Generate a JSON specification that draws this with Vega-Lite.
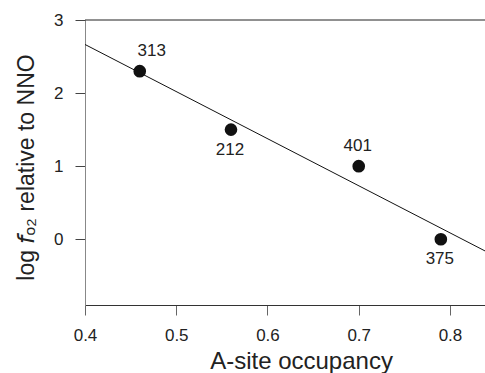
{
  "$schema": "https://vega.github.io/schema/vega-lite/v6.json",
  "autosize": "none",
  "width": 400,
  "height": 285,
  "padding": {"left": 85, "top": 20, "right": 0, "bottom": 68},
  "background": "white",
  "config": {
    "view": {"stroke": null},
    "font": "Liberation Sans",
    "axis": {"grid": false, "labelFlush": false, "labelFont": "Liberation Sans", "titleFont": "Liberation Sans", "labelColor": "#222", "titleColor": "#222", "titleFontWeight": "normal", "labelFontSize": 17, "titleFontSize": 23, "tickSize": 10, "labelPadding": 11}
  },
  "datasets": {
    "pts": [
      {"occ": 0.46, "fo2": 2.3, "name": "313"},
      {"occ": 0.56, "fo2": 1.5, "name": "212"},
      {"occ": 0.70, "fo2": 1.0, "name": "401"},
      {"occ": 0.79, "fo2": 0.0, "name": "375"}
    ],
    "fit": [
      {"occ": 0.4, "fo2": 2.665},
      {"occ": 0.8384, "fo2": -0.16}
    ]
  },
  "layer": [
    {
      "data": {"values": [{"v": 3}]},
      "mark": {"type": "rule", "color": "#222", "strokeWidth": 1},
      "encoding": {"y": {"field": "v", "type": "quantitative", "scale": {"domain": [-0.9, 3], "nice": false}}}
    },
    {
      "data": {"name": "fit"},
      "mark": {"type": "line", "color": "#111", "strokeWidth": 1, "clip": true},
      "encoding": {
        "x": {"field": "occ", "type": "quantitative"},
        "y": {"field": "fo2", "type": "quantitative"}
      }
    },
    {
      "data": {"name": "pts"},
      "mark": {"type": "point", "filled": true, "color": "#111", "opacity": 1, "size": 160},
      "encoding": {
        "x": {"field": "occ", "type": "quantitative", "scale": {"domain": [0.4, 0.8384], "nice": false, "zero": false},
          "axis": {"values": [0.4, 0.5, 0.6, 0.7, 0.8], "format": ".1f", "title": "A-site occupancy", "domainColor": "#333", "tickColor": "#666", "labelPadding": 12, "titleX": 216, "titleY": 63, "titleBaseline": "alphabetic", "titleFontSize": 24}},
        "y": {"field": "fo2", "type": "quantitative", "scale": {"domain": [-0.9, 3], "nice": false, "zero": false},
          "axis": {"values": [0, 1, 2, 3], "format": "d", "title": "log 𝘧ₒ₂ relative to NNO", "domainColor": "#888", "tickColor": "#444", "labelPadding": 12, "titleX": -52, "titleY": 147, "titleBaseline": "alphabetic", "titleAlign": "center", "titleAngle": -90}}
      }
    },
    {
      "data": {"name": "pts"},
      "transform": [{"filter": "datum.name === '313'"}],
      "mark": {"type": "text", "fontSize": 17, "color": "#222", "dx": 12, "dy": -20, "baseline": "middle"},
      "encoding": {
        "x": {"field": "occ", "type": "quantitative"},
        "y": {"field": "fo2", "type": "quantitative"},
        "text": {"field": "name"}
      }
    },
    {
      "data": {"name": "pts"},
      "transform": [{"filter": "datum.name === '401'"}],
      "mark": {"type": "text", "fontSize": 17, "color": "#222", "dx": -1, "dy": -20, "baseline": "middle"},
      "encoding": {
        "x": {"field": "occ", "type": "quantitative"},
        "y": {"field": "fo2", "type": "quantitative"},
        "text": {"field": "name"}
      }
    },
    {
      "data": {"name": "pts"},
      "transform": [{"filter": "datum.name === '212' || datum.name === '375'"}],
      "mark": {"type": "text", "fontSize": 17, "color": "#222", "dx": -1, "dy": 20, "baseline": "middle"},
      "encoding": {
        "x": {"field": "occ", "type": "quantitative"},
        "y": {"field": "fo2", "type": "quantitative"},
        "text": {"field": "name"}
      }
    }
  ]
}
